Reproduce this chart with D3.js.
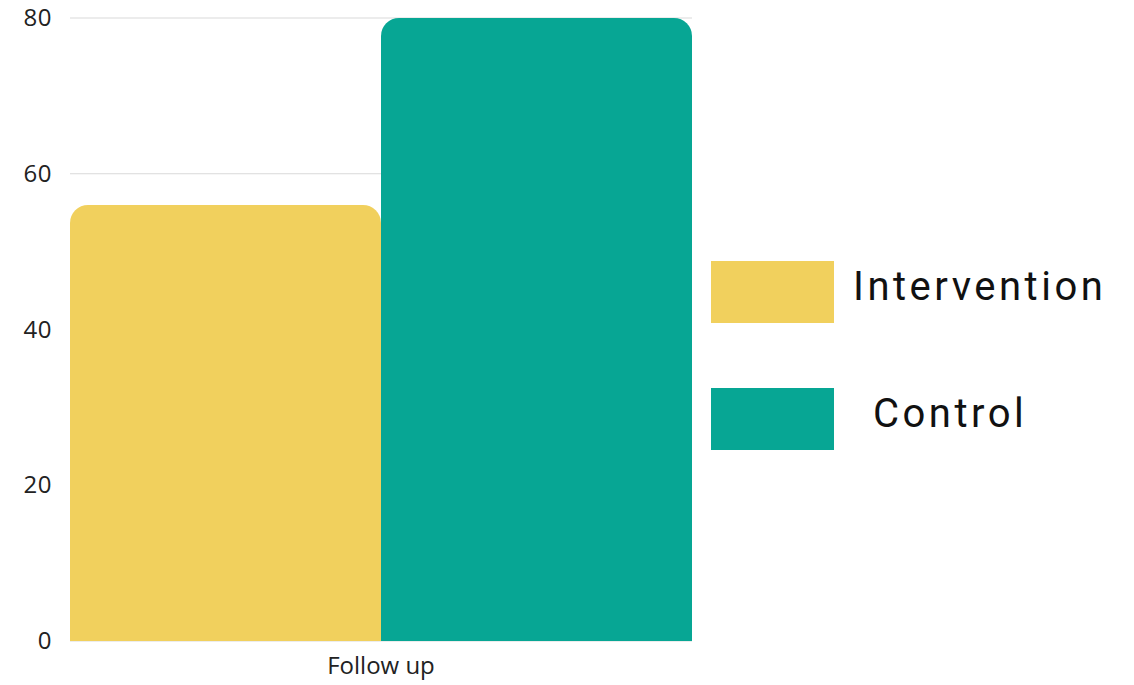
<!DOCTYPE html>
<html lang="en">
<head>
<meta charset="utf-8">
<title>Follow up bar chart</title>
<script src="https://cdn.jsdelivr.net/npm/d3@7"></script>
<style>
  body { margin: 0; background: #fff; }
  svg { display: block; }
</style>
</head>
<body>
<div id="chart"></div>
<script>

/* Data */
var categories = ['Follow up'];
var seriesNames = ['Intervention', 'Control'];
var seriesValues = [56, 80];
var seriesColors = ['#F1D05D', '#07A694'];
var yTicks = [0, 20, 40, 60, 80];

/* Layout */
var width = 1134,
    height = 685,
    margin = { top: 18, right: 442, bottom: 44, left: 70 };

var svg = d3.select('#chart').append('svg')
    .attr('width', width)
    .attr('height', height);

var x0 = d3.scaleBand()
    .domain(categories)
    .range([margin.left, width - margin.right]);

var x1 = d3.scaleBand()
    .domain(seriesNames)
    .range([0, x0.bandwidth()]);

var y = d3.scaleLinear()
    .domain([0, 80])
    .range([height - margin.bottom, margin.top]);

// Grid lines
svg.append('g')
  .selectAll('line')
  .data(yTicks)
  .join('line')
    .attr('x1', margin.left)
    .attr('x2', width - margin.right)
    .attr('y1', function(d) { return y(d); })
    .attr('y2', function(d) { return y(d); })
    .attr('stroke', '#d9d9d9')
    .attr('stroke-width', 1);

// Y axis labels
var yAxis = d3.axisLeft(y).tickValues(yTicks).tickSize(0).tickPadding(18);
svg.append('g')
    .attr('transform', 'translate(' + margin.left + ',0)')
    .call(yAxis)
    .call(function(g) { g.select('.domain').remove(); })
    .selectAll('text')
    .attr('font-family', '"Open Sans", sans-serif')
    .attr('font-size', 24)
    .attr('letter-spacing', 0.5)
    .attr('fill', '#222');

// Bars with rounded top corners
function topRounded(x, yTop, w, h, r) {
  r = Math.min(r, h, w / 2);
  return 'M' + x + ',' + (yTop + h) +
    'V' + (yTop + r) +
    'A' + r + ',' + r + ' 0 0 1 ' + (x + r) + ',' + yTop +
    'H' + (x + w - r) +
    'A' + r + ',' + r + ' 0 0 1 ' + (x + w) + ',' + (yTop + r) +
    'V' + (yTop + h) + 'Z';
}

var barData = seriesNames.map(function(name, i) {
  return { cat: categories[0], name: name, value: seriesValues[i], color: seriesColors[i] };
});

svg.append('g')
  .selectAll('path')
  .data(barData)
  .join('path')
    .attr('d', function(d) {
      var bx = x0(d.cat) + x1(d.name);
      return topRounded(bx, y(d.value), x1.bandwidth(), y(0) - y(d.value), 18);
    })
    .attr('fill', function(d) { return d.color; });

// X axis label
var xAxis = d3.axisBottom(x0).tickSize(0).tickPadding(16);
svg.append('g')
    .attr('transform', 'translate(0,' + y(0) + ')')
    .call(xAxis)
    .call(function(g) { g.select('.domain').remove(); })
    .selectAll('text')
    .attr('font-family', '"Open Sans", sans-serif')
    .attr('font-size', 24)
    .attr('fill', '#222');

// Legend
var legend = svg.append('g');
var legendRows = [
  { name: seriesNames[0], color: seriesColors[0], y: 261, tx: 853 },
  { name: seriesNames[1], color: seriesColors[1], y: 388, tx: 873 }
];

legend.selectAll('rect')
  .data(legendRows)
  .join('rect')
    .attr('x', 711)
    .attr('y', function(d) { return d.y; })
    .attr('width', 123)
    .attr('height', 62)
    .attr('fill', function(d) { return d.color; });

legend.selectAll('text')
  .data(legendRows)
  .join('text')
    .attr('x', function(d) { return d.tx; })
    .attr('y', function(d) { return d.y + 39; })
    .attr('font-family', 'Roboto, sans-serif')
    .attr('font-size', 40)
    .attr('letter-spacing', 3.5)
    .attr('fill', '#111')
    .text(function(d) { return d.name; });

</script>
</body>
</html>
